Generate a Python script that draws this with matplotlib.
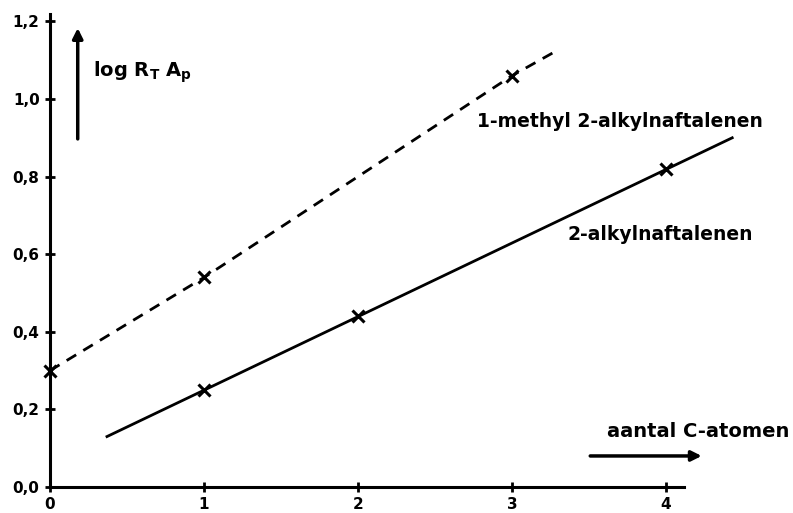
import numpy as np
import matplotlib.pyplot as plt

# measured points (number of C atoms vs log RT Ap)
c_atoms = [0, 1, 2, 3, 4]
methyl_x = [0, 1, 3]
methyl_y = [0.30, 0.54, 1.06]
alkyl_x = [1, 2, 4]
alkyl_y = [0.25, 0.44, 0.82]
# ends of the drawn lines
methyl_line_x = [0, 1, 3, 3.27]
methyl_line_y = [0.30, 0.54, 1.06, 1.12]
alkyl_line_x = [0.37, 4.43]
alkyl_line_y = [0.13, 0.90]
y_ticks = [0.0, 0.2, 0.4, 0.6, 0.8, 1.0, 1.2]
y_labels = ['0,0', '0,2', '0,4', '0,6', '0,8', '1,0', '1,2']

plt.rcParams['font.family'] = ['DejaVu Sans']
fig = plt.figure(figsize=(7.93, 5.13), dpi=100)
ax = fig.add_axes([50/793, 26/513, 4.12*154/793, 1.22*388/513])
ax.set_xlim(0, 4.12)
ax.set_ylim(0, 1.22)

for s in ['top', 'right']:
    ax.spines[s].set_visible(False)
for s in ['left', 'bottom']:
    ax.spines[s].set_linewidth(2.2)
    ax.spines[s].set_color('black')

ax.set_xticks(c_atoms)
ax.set_xticklabels([str(c) for c in c_atoms])
ax.set_yticks(y_ticks)
ax.set_yticklabels(y_labels)
ax.tick_params(direction='inout', length=7, width=2, labelsize=11, pad=4)
for lab in ax.get_xticklabels() + ax.get_yticklabels():
    lab.set_fontweight('bold')

ax.plot(methyl_line_x, methyl_line_y, color='black', lw=2, dashes=(4, 3), clip_on=False)
ax.plot(methyl_x, methyl_y, 'x', color='black', ms=8, mew=2.2, clip_on=False)
ax.plot(alkyl_line_x, alkyl_line_y, color='black', lw=2, clip_on=False)
ax.plot(alkyl_x, alkyl_y, 'x', color='black', ms=8, mew=2.2, clip_on=False)

# axis direction arrows
ax.annotate('', xy=(0.18, 1.19), xytext=(0.18, 0.89),
            arrowprops=dict(arrowstyle='-|>', color='black', lw=2.5, mutation_scale=15),
            annotation_clip=False)
ax.annotate('', xy=(4.25, 0.08), xytext=(3.49, 0.08),
            arrowprops=dict(arrowstyle='-|>', color='black', lw=2.5, mutation_scale=15),
            annotation_clip=False)

ax.text(0.28, 1.07, r'log R$_\mathregular{T}$ A$_\mathregular{p}$', fontsize=14,
        fontweight='bold', va='center', ha='left', clip_on=False)
ax.text(2.77, 0.943, '1-methyl 2-alkylnaftalenen', fontsize=13.5,
        fontweight='bold', va='center', ha='left', clip_on=False)
ax.text(3.36, 0.65, '2-alkylnaftalenen', fontsize=13.5,
        fontweight='bold', va='center', ha='left', clip_on=False)
ax.text(3.62, 0.142, 'aantal C-atomen', fontsize=14,
        fontweight='bold', va='center', ha='left', clip_on=False)

fig.savefig('out.png', dpi=100)
